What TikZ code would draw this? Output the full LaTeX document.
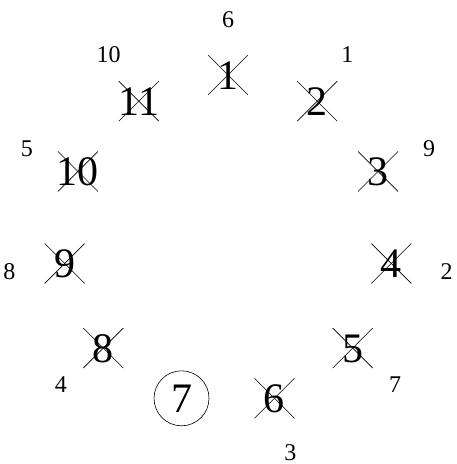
\documentclass[tikz,border=0pt]{standalone}
\usepackage{fontspec}
\setmainfont{Liberation Serif}
\usetikzlibrary{calc}
\begin{document}
\begin{tikzpicture}[x=1pt,y=1pt,
  num/.style={inner sep=0pt,text height=28.5pt,text depth=0pt,font=\fontsize{42}{42}\selectfont},
  ord/.style={inner sep=0pt,text height=16.5pt,text depth=0pt,font=\fontsize{24}{24}\selectfont},
  crossline/.style={line width=0.6pt}]
\useasboundingbox (0,0) rectangle (456,464);
\coordinate (c) at (228,224);
\foreach \i/\o in {1/6,2/1,3/9,4/2,5/7,6/3,7/,8/4,9/8,10/5,11/10}{
  \pgfmathsetmacro{\ang}{90-(\i-1)*360/11}
  \node[num] (n\i) at ($(c)+(\ang:165)$) {\i};
  \node[ord] (o\i) at ($(c)+(\ang:221)$) {\o};
}
\foreach \i in {1,2,3,4,5,6,8,9,10,11}{
  \draw[crossline] ([shift={(-20pt,-20pt)}]n\i.center) -- ([shift={(20pt,20pt)}]n\i.center);
  \draw[crossline] ([shift={(-20pt,20pt)}]n\i.center) -- ([shift={(20pt,-20pt)}]n\i.center);
}
\node[draw,circle,minimum size=55pt,inner sep=0pt,line width=0.6pt] (r7) at (n7.center) {};
\end{tikzpicture}
\end{document}
